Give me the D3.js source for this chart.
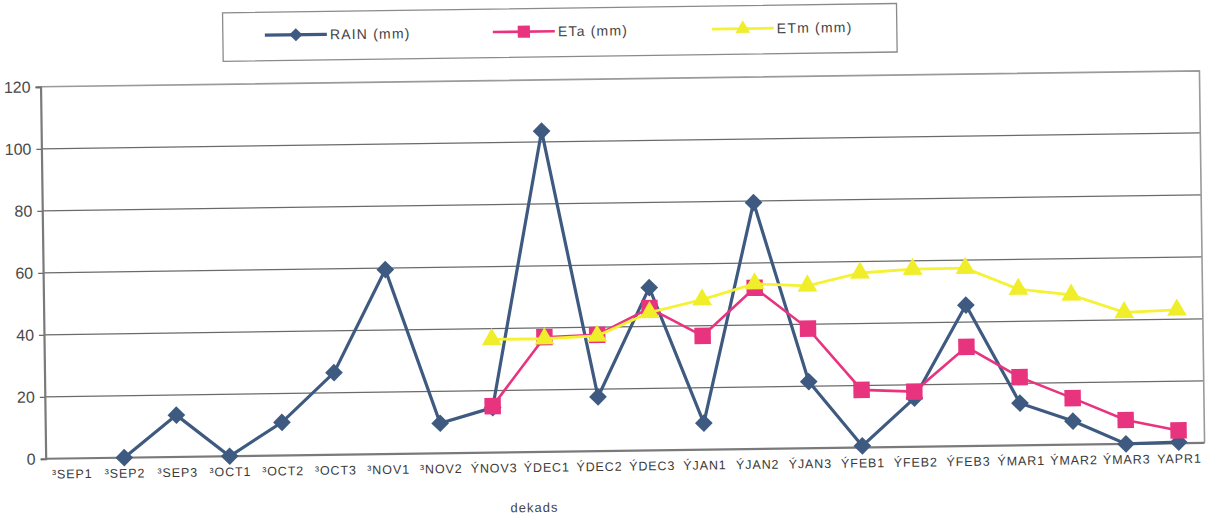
<!DOCTYPE html>
<html>
<head>
<meta charset="utf-8">
<script src="https://cdn.jsdelivr.net/npm/d3@7/dist/d3.min.js"></script>
<style>
  html, body { margin: 0; padding: 0; background: #ffffff; }
  svg { display: block; }
  text { font-family: "Liberation Sans", Arial, sans-serif; }
</style>
</head>
<body>
<svg id="chart" width="1217" height="523"></svg>
<script>
// Dekads, September to April
const categories = ["³SEP1","³SEP2","³SEP3","³OCT1","³OCT2","³OCT3","³NOV1","³NOV2",
  "ÝNOV3","ÝDEC1","ÝDEC2","ÝDEC3","ÝJAN1","ÝJAN2","ÝJAN3","ÝFEB1","ÝFEB2","ÝFEB3",
  "ÝMAR1","ÝMAR2","ÝMAR3","YAPR1"];

// Rainfall per dekad (mm)
const rain = [null, 0, 13.5, 0, 10.7, 26.5, 59.5, 9.7, 14.5, 103.5, 17.5, 52.5,
  8.6, 79.5, 21.5, 0.5, 15.7, 45.5, 13.6, 7.6, 0, 0.3];
// Actual evapotranspiration (mm)
const eta = [null, null, null, null, null, null, null, null, 15, 37, 37.5, 45.9,
  36.7, 52, 38.6, 18.6, 17.8, 32, 22, 15, 7.7, 4.1];
// Maximum evapotranspiration (mm)
const etm = [null, null, null, null, null, null, null, null, 36.5, 36.5, 37.2, 44.5,
  48.4, 53.3, 52.4, 56.3, 57.3, 57.4, 50.4, 48.3, 42.4, 43];

const yTicks = [0, 20, 40, 60, 80, 100, 120];
const seriesNames = ["RAIN (mm)", "ETa (mm)", "ETm (mm)"];

const svg = d3.select("#chart");
svg.append("rect").attr("width", 1217).attr("height", 523).attr("fill", "#fff");

// The whole sheet sits slightly tilted
const g = svg.append("g").attr("transform", "rotate(-0.79, 608, 261)");

const plot = { left: 43, right: 1202, top: 79, bottom: 451 };

const x = d3.scalePoint().domain(categories).range([plot.left, plot.right]).padding(0.49);
const y = d3.scaleLinear().domain([0, 120]).range([plot.bottom, plot.top]);

// Horizontal gridlines
g.append("g").selectAll("line")
  .data(yTicks.filter(t => t > 0 && t < 120))
  .join("line")
  .attr("x1", plot.left).attr("x2", plot.right)
  .attr("y1", d => y(d)).attr("y2", d => y(d))
  .attr("stroke", "#6a6a6a").attr("stroke-width", 1.2);

// Plot frame (top and right)
g.append("path")
  .attr("d", `M${plot.left},${plot.top}H${plot.right}V${plot.bottom}`)
  .attr("fill", "none").attr("stroke", "#9a9a9a").attr("stroke-width", 1.6);

// Y axis
const yAxis = g.append("g")
  .attr("transform", `translate(${plot.left},0)`)
  .call(d3.axisLeft(y).tickValues(yTicks).tickSize(5).tickPadding(5));
yAxis.select(".domain").attr("stroke", "#7a7a7a").attr("stroke-width", 2.2);
yAxis.selectAll(".tick line").attr("stroke", "#6a6a6a").attr("stroke-width", 1.2);
yAxis.selectAll(".tick text")
  .attr("fill", "#4a4a4a").style("font-size", "16px");

// X axis
const xAxis = g.append("g")
  .attr("transform", `translate(0,${plot.bottom})`)
  .call(d3.axisBottom(x).tickSize(0).tickPadding(11));
xAxis.select(".domain")
  .attr("d", `M${plot.left},0H${plot.right}`)
  .attr("stroke", "#7a7a7a").attr("stroke-width", 2.2);
xAxis.selectAll(".tick text")
  .attr("fill", "#3a3a3a").style("font-size", "12.5px").style("letter-spacing", "0.9px");

// Axis title
g.append("text")
  .attr("x", 531).attr("y", 511)
  .attr("text-anchor", "middle")
  .attr("fill", "#444").style("font-size", "13px").style("letter-spacing", "1px")
  .text("dekads");

// Series
const styles = [
  { data: rain, color: "#3f5a80", width: 3.2, shape: d3.symbolDiamond2, size: 200, fill: "#3f5a80" },
  { data: eta, color: "#e8347f", width: 2.6, shape: d3.symbolSquare, size: 270, fill: "#e8347f" },
  { data: etm, color: "#f4f232", width: 2.8, shape: d3.symbolTriangle, size: 170, fill: "#f0ee2a" }
];

const line = d3.line()
  .defined(d => d.v != null)
  .x(d => x(d.c))
  .y(d => y(d.v));

styles.forEach(s => {
  const pts = categories.map((c, i) => ({ c, v: s.data[i] }));
  const sg = g.append("g");
  sg.append("path")
    .datum(pts)
    .attr("d", line)
    .attr("fill", "none")
    .attr("stroke", s.color)
    .attr("stroke-width", s.width)
    .attr("stroke-linejoin", "miter");
  sg.selectAll("path.mark")
    .data(pts.filter(d => d.v != null))
    .join("path")
    .attr("class", "mark")
    .attr("transform", d => `translate(${x(d.c)},${y(d.v)})`)
    .attr("d", d3.symbol().type(s.shape).size(s.size))
    .attr("fill", s.fill);
});

// Legend
const legend = g.append("g");
legend.append("rect")
  .attr("x", 226).attr("y", 7.5).attr("width", 674).attr("height", 48.5)
  .attr("fill", "#fff").attr("stroke", "#8a8a8a").attr("stroke-width", 1.3);

const legendX = [268, 496, 715];
styles.forEach((s, i) => {
  const lx = legendX[i], ly = 30.5;
  legend.append("line")
    .attr("x1", lx).attr("x2", lx + 62)
    .attr("y1", ly).attr("y2", ly)
    .attr("stroke", s.color).attr("stroke-width", s.width);
  legend.append("path")
    .attr("transform", `translate(${lx + 31},${ly})`)
    .attr("d", d3.symbol().type(s.shape).size(s.size * 0.55))
    .attr("fill", s.fill);
  legend.append("text")
    .attr("x", lx + 65).attr("y", ly + 5)
    .attr("fill", "#444").style("font-size", "14px").style("letter-spacing", "1.2px")
    .text(seriesNames[i]);
});
</script>
</body>
</html>
